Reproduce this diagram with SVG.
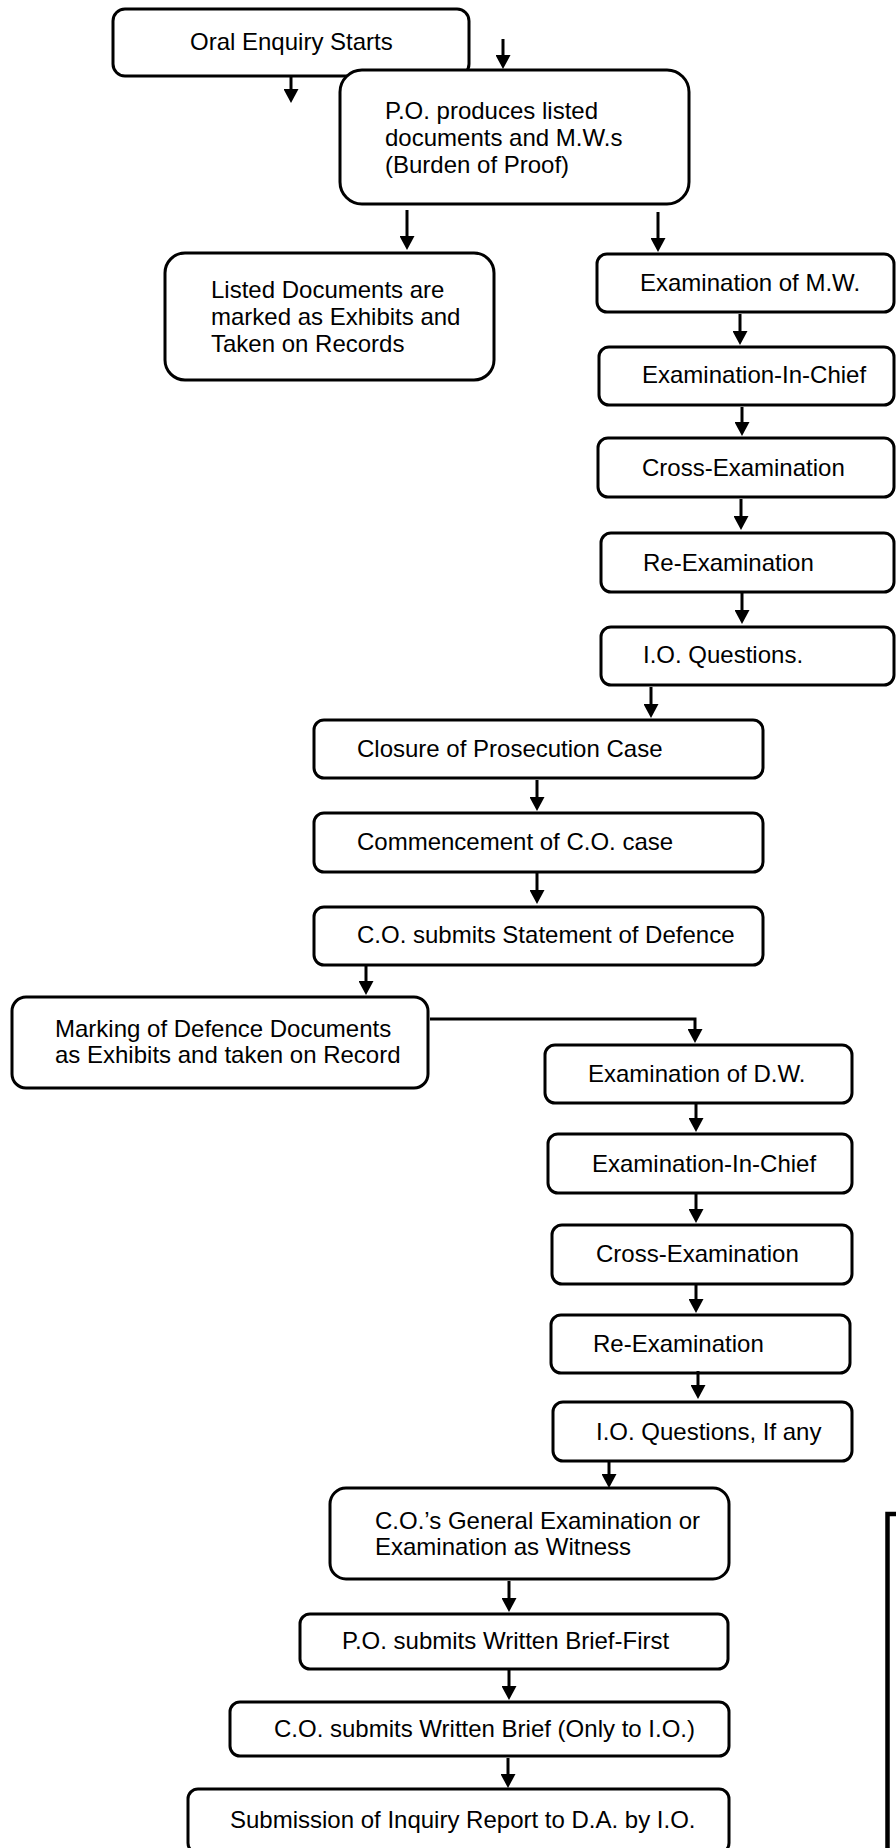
<svg xmlns="http://www.w3.org/2000/svg" width="896" height="1848" viewBox="0 0 896 1848">
<style>
.b{fill:#fff;stroke:#000;stroke-width:3}
.t{font-family:"Liberation Sans",Arial,sans-serif;font-size:24px;fill:#000}
.c{fill:none;stroke:#000;stroke-width:3}
</style>
<defs>
<marker id="ah" markerUnits="userSpaceOnUse" markerWidth="15" markerHeight="15" refX="8" refY="7.5" orient="auto">
<path d="M0,0 L14,7.5 L0,15 Z" fill="#000"/>
</marker>
</defs>
<rect width="896" height="1848" fill="#fff"/>
<g id="n-oral"><rect class="b" x="113" y="9" width="356" height="67" rx="12"/><text class="t" x="190" y="50">Oral Enquiry Starts</text></g>
<g id="n-po"><rect class="b" x="340" y="70" width="349" height="134" rx="22"/><text class="t" x="385" y="119">P.O. produces listed</text><text class="t" x="385" y="146">documents and M.W.s</text><text class="t" x="385" y="173">(Burden of Proof)</text></g>
<g id="n-listed"><rect class="b" x="165" y="253" width="329" height="127" rx="20"/><text class="t" x="211" y="298">Listed Documents are</text><text class="t" x="211" y="325">marked as Exhibits and</text><text class="t" x="211" y="352">Taken on Records</text></g>
<g id="n-mw"><rect class="b" x="597" y="254" width="297" height="58" rx="10"/><text class="t" x="640" y="291">Examination of M.W.</text></g>
<g id="n-eic1"><rect class="b" x="599" y="347" width="295" height="58" rx="10"/><text class="t" x="642" y="383">Examination-In-Chief</text></g>
<g id="n-cross1"><rect class="b" x="598" y="438" width="296" height="59" rx="10"/><text class="t" x="642" y="476">Cross-Examination</text></g>
<g id="n-re1"><rect class="b" x="601" y="533" width="293" height="59" rx="10"/><text class="t" x="643" y="571">Re-Examination</text></g>
<g id="n-io1"><rect class="b" x="601" y="627" width="293" height="58" rx="10"/><text class="t" x="643" y="663">I.O. Questions.</text></g>
<g id="n-closure"><rect class="b" x="314" y="720" width="449" height="58" rx="10"/><text class="t" x="357" y="757">Closure of Prosecution Case</text></g>
<g id="n-comm"><rect class="b" x="314" y="813" width="449" height="59" rx="10"/><text class="t" x="357" y="850">Commencement of C.O. case</text></g>
<g id="n-stmt"><rect class="b" x="314" y="907" width="449" height="58" rx="10"/><text class="t" x="357" y="943">C.O. submits Statement of Defence</text></g>
<g id="n-marking"><rect class="b" x="12" y="997" width="416" height="91" rx="14"/><text class="t" x="55" y="1037">Marking of Defence Documents</text><text class="t" x="55" y="1063">as Exhibits and taken on Record</text></g>
<g id="n-dw"><rect class="b" x="545" y="1045" width="307" height="58" rx="10"/><text class="t" x="588" y="1082">Examination of D.W.</text></g>
<g id="n-eic2"><rect class="b" x="548" y="1134" width="304" height="59" rx="10"/><text class="t" x="592" y="1172">Examination-In-Chief</text></g>
<g id="n-cross2"><rect class="b" x="552" y="1225" width="300" height="59" rx="10"/><text class="t" x="596" y="1262">Cross-Examination</text></g>
<g id="n-re2"><rect class="b" x="551" y="1315" width="299" height="58" rx="10"/><text class="t" x="593" y="1352">Re-Examination</text></g>
<g id="n-io2"><rect class="b" x="553" y="1402" width="299" height="59" rx="10"/><text class="t" x="596" y="1440">I.O. Questions, If any</text></g>
<g id="n-general"><rect class="b" x="330" y="1488" width="399" height="91" rx="16"/><text class="t" x="375" y="1529">C.O.’s General Examination or</text><text class="t" x="375" y="1555">Examination as Witness</text></g>
<g id="n-pow"><rect class="b" x="300" y="1614" width="428" height="55" rx="10"/><text class="t" x="342" y="1649">P.O. submits Written Brief-First</text></g>
<g id="n-cow"><rect class="b" x="230" y="1702" width="499" height="54" rx="10"/><text class="t" x="274" y="1737">C.O. submits Written Brief (Only to I.O.)</text></g>
<g id="n-sub"><rect class="b" x="188" y="1789" width="541" height="64" rx="10"/><text class="t" x="230" y="1828">Submission of Inquiry Report to D.A. by I.O.</text></g>
<g id="frame"><path d="M887.5,1848 V1514 H900" fill="none" stroke="#000" stroke-width="4.5"/></g>
<g id="connectors" marker-end="url(#ah)">
<line class="c" x1="291" y1="76" x2="291" y2="97" marker-end="url(#ah)"/>
<line class="c" x1="503" y1="39" x2="503" y2="63" marker-end="url(#ah)"/>
<line class="c" x1="407" y1="210" x2="407" y2="244" marker-end="url(#ah)"/>
<line class="c" x1="658" y1="212" x2="658" y2="246" marker-end="url(#ah)"/>
<line class="c" x1="740" y1="314" x2="740" y2="339" marker-end="url(#ah)"/>
<line class="c" x1="742" y1="407" x2="742" y2="430" marker-end="url(#ah)"/>
<line class="c" x1="741" y1="499" x2="741" y2="524" marker-end="url(#ah)"/>
<line class="c" x1="742" y1="593" x2="742" y2="618" marker-end="url(#ah)"/>
<line class="c" x1="651" y1="687" x2="651" y2="712" marker-end="url(#ah)"/>
<line class="c" x1="537" y1="780" x2="537" y2="805" marker-end="url(#ah)"/>
<line class="c" x1="537" y1="873" x2="537" y2="898" marker-end="url(#ah)"/>
<line class="c" x1="366" y1="966" x2="366" y2="989" marker-end="url(#ah)"/>
<polyline class="c" points="430,1019 695,1019 695,1037" marker-end="url(#ah)"/>
<line class="c" x1="696" y1="1104" x2="696" y2="1126" marker-end="url(#ah)"/>
<line class="c" x1="696" y1="1194" x2="696" y2="1217" marker-end="url(#ah)"/>
<line class="c" x1="696" y1="1285" x2="696" y2="1307" marker-end="url(#ah)"/>
<line class="c" x1="698" y1="1371" x2="698" y2="1393" marker-end="url(#ah)"/>
<line class="c" x1="609" y1="1462" x2="609" y2="1482" marker-end="url(#ah)"/>
<line class="c" x1="509" y1="1581" x2="509" y2="1606" marker-end="url(#ah)"/>
<line class="c" x1="509" y1="1670" x2="509" y2="1694" marker-end="url(#ah)"/>
<line class="c" x1="508" y1="1758" x2="508" y2="1782" marker-end="url(#ah)"/>
</g>
</svg>
